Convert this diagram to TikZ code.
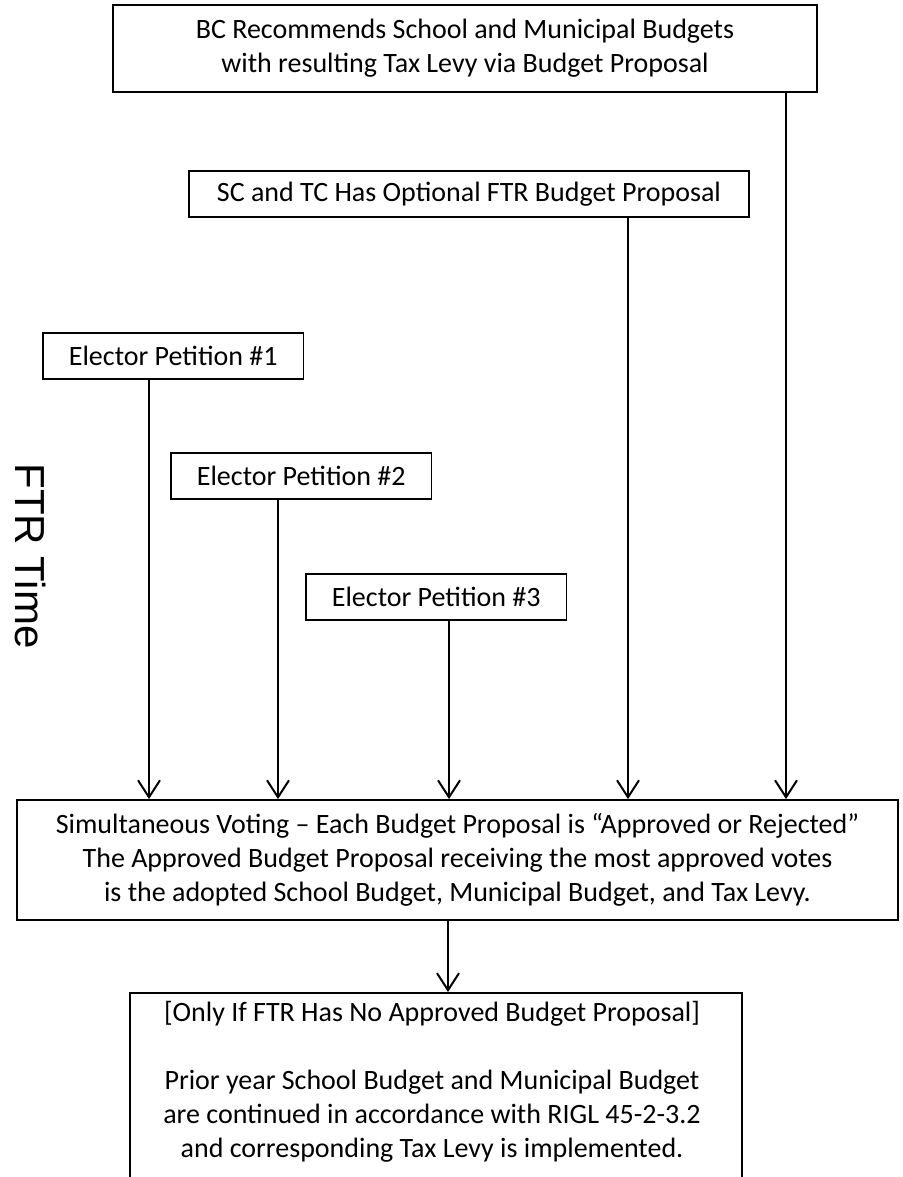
\documentclass[tikz,border=0pt]{standalone}
\usepackage{fontspec}
\setmainfont{Carlito}
\newfontfamily\arialf{Liberation Sans}
\usetikzlibrary{arrows.meta}
\begin{document}
\begin{tikzpicture}[x=1pt,y=-1pt,
  txt/.style={font=\fontsize{28}{34}\selectfont},
  box/.style={txt, draw=black, line width=1.8pt, align=center, inner xsep=26pt, inner ysep=0pt},
  arr/.style={line width=2pt, -{Straight Barb[length=17pt,width=22pt,line width=2pt]}}]
\clip (0,0) rectangle (902,1177);
\node[box, minimum width=704pt, minimum height=87pt] (bc) at (465,48.5) {BC Recommends School and Municipal Budgets\\with resulting Tax Levy via Budget Proposal};
\node[box, minimum width=560pt, minimum height=46pt] (sc) at (469,194) {SC and TC Has Optional FTR Budget Proposal};
\node[box, minimum height=46pt, anchor=west] (ep1) at (42,356) {Elector Petition \#1};
\node[box, minimum height=46pt, anchor=west] (ep2) at (170,476) {Elector Petition \#2};
\node[box, minimum height=46pt, anchor=west] (ep3) at (305,597) {Elector Petition \#3};
\node[box, minimum width=881pt, minimum height=120pt] (vote) at (457.5,860) {Simultaneous Voting -- Each Budget Proposal is “Approved or Rejected”\\The Approved Budget Proposal receiving the most approved votes\\is the adopted School Budget, Municipal Budget, and Tax Levy.};
\node[box, minimum width=612pt, minimum height=240pt, anchor=north] (prior) at (436,992) {};
\node[txt, align=center, anchor=north, inner sep=0pt] (priortext) at (432,1001) {[Only If FTR Has No Approved Budget Proposal]\\[34pt]Prior year School Budget and Municipal Budget\\are continued in accordance with RIGL 45-2-3.2\\and corresponding Tax Levy is implemented.};
\node[font=\arialf\fontsize{42}{50}\selectfont, rotate=-90, inner sep=0pt] (time) at (31,556) {FTR Time};
\coordinate (c1) at (149,0);
\coordinate (c2) at (278,0);
\coordinate (c3) at (449,0);
\coordinate (c4) at (628,0);
\coordinate (c5) at (786,0);
\coordinate (c6) at (448,0);
\draw[arr] (c5 |- bc.south) -- (c5 |- vote.north);
\draw[arr] (c4 |- sc.south) -- (c4 |- vote.north);
\draw[arr] (c1 |- ep1.south) -- (c1 |- vote.north);
\draw[arr] (c2 |- ep2.south) -- (c2 |- vote.north);
\draw[arr] (c3 |- ep3.south) -- (c3 |- vote.north);
\draw[arr] (c6 |- vote.south) -- (c6 |- prior.north);
\end{tikzpicture}
\end{document}
